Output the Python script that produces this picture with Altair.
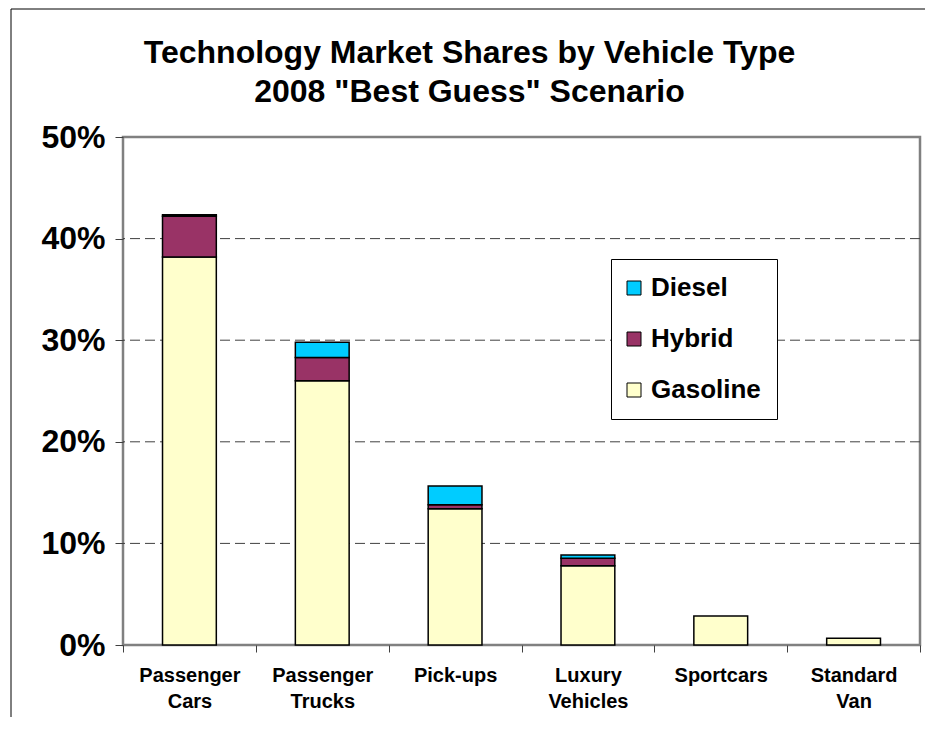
import altair as alt
import pandas as pd

categories = ["Passenger Cars", "Passenger Trucks", "Pick-ups", "Luxury Vehicles", "Sportcars", "Standard Van"]
gasoline = [38.2, 26.0, 13.4, 7.8, 2.85, 0.66]
hybrid = [4.0, 2.3, 0.4, 0.75, 0.0, 0.0]
diesel = [0.15, 1.5, 1.85, 0.3, 0.0, 0.0]
series = ["Diesel", "Hybrid", "Gasoline"]
colors = ["#00CCFF", "#993366", "#FFFFCC"]
y_ticks = [0, 10, 20, 30, 40, 50]
grid_vals = [10, 20, 30, 40]

rows = []
for i, c in enumerate(categories):
    for name, vals, rank in (("Gasoline", gasoline, 0), ("Hybrid", hybrid, 1), ("Diesel", diesel, 2)):
        if vals[i] > 0:
            rows.append({"cat": c, "tech": name, "value": vals[i], "rank": rank})
df = pd.DataFrame(rows)

FONT = "Liberation Sans"
yscale = alt.Scale(domain=[0, 50], nice=False, zero=True)
yaxis = alt.Axis(values=y_ticks, grid=False, domain=False,
                 tickColor="#404040", tickSize=8, tickWidth=1,
                 labelFont=FONT, labelFontSize=32, labelFontWeight="bold",
                 labelColor="black", labelPadding=10,
                 labelExpr="datum.value + '%'")

one = pd.DataFrame({"a": [0]})
frame_left = alt.Chart(one).mark_rule(color="black", strokeWidth=1).encode(
    x=alt.value(-112), y=alt.value(-128), y2=alt.value(580)
)
frame_top = alt.Chart(one).mark_rule(color="black", strokeWidth=1).encode(
    x=alt.value(-112), x2=alt.value(803), y=alt.value(-128)
)

grid = alt.Chart(pd.DataFrame({"v": grid_vals})).mark_rule(
    color="#404040", strokeWidth=1, strokeDash=[10, 5]
).encode(
    y=alt.Y("v:Q", scale=yscale, axis=yaxis, title=None)
)

bars = alt.Chart(df).mark_bar(
    stroke="black", strokeWidth=1.5, width=alt.RelativeBandSize(0.405)
).encode(
    x=alt.X("cat:N", sort=categories, title=None,
            scale=alt.Scale(paddingInner=0, paddingOuter=0),
            axis=alt.Axis(labelAngle=0, tickBand="extent", domain=False,
                          tickColor="#404040", tickSize=7, tickWidth=1,
                          labelFont=FONT, labelFontSize=20, labelFontWeight="bold",
                          labelColor="black", labelPadding=13, labelLineHeight=26,
                          labelBaseline="top",
                          labelExpr="split(datum.label, ' ')")),
    y=alt.Y("value:Q", stack="zero", scale=yscale, title=None, axis=yaxis),
    color=alt.Color("tech:N", scale=alt.Scale(domain=series, range=colors),
                    legend=alt.Legend(title=None, orient="none", legendX=488, legendY=122,
                                      direction="vertical",
                                      symbolType="square", symbolSize=196,
                                      symbolStrokeColor="black", symbolStrokeWidth=1,
                                      symbolOffset=alt.ExprRef("-6"),
                                      labelFont=FONT, labelFontSize=26, labelFontWeight="bold",
                                      labelColor="black", labelOffset=4,
                                      rowPadding=25, padding=16,
                                      strokeColor="black", fillColor="white")),
    order=alt.Order("rank:Q", sort="ascending"),
)

chart = alt.layer(frame_left, frame_top, grid, bars).properties(
    width=797, height=508,
    autosize=alt.AutoSizeParams(type="none"),
    padding={"left": 115, "top": 129, "right": 5, "bottom": 72},
    background="white",
    title=alt.TitleParams(
        ["Technology Market Shares by Vehicle Type", "2008 \"Best Guess\" Scenario"],
        font=FONT, fontSize=32, fontWeight="bold", color="black",
        anchor="middle", dx=-52, lineHeight=39, offset=-100,
    ),
).configure_view(
    stroke="#808080", strokeWidth=2.5
)

chart.save("out.html", embed_options={"renderer": "svg", "actions": False})
